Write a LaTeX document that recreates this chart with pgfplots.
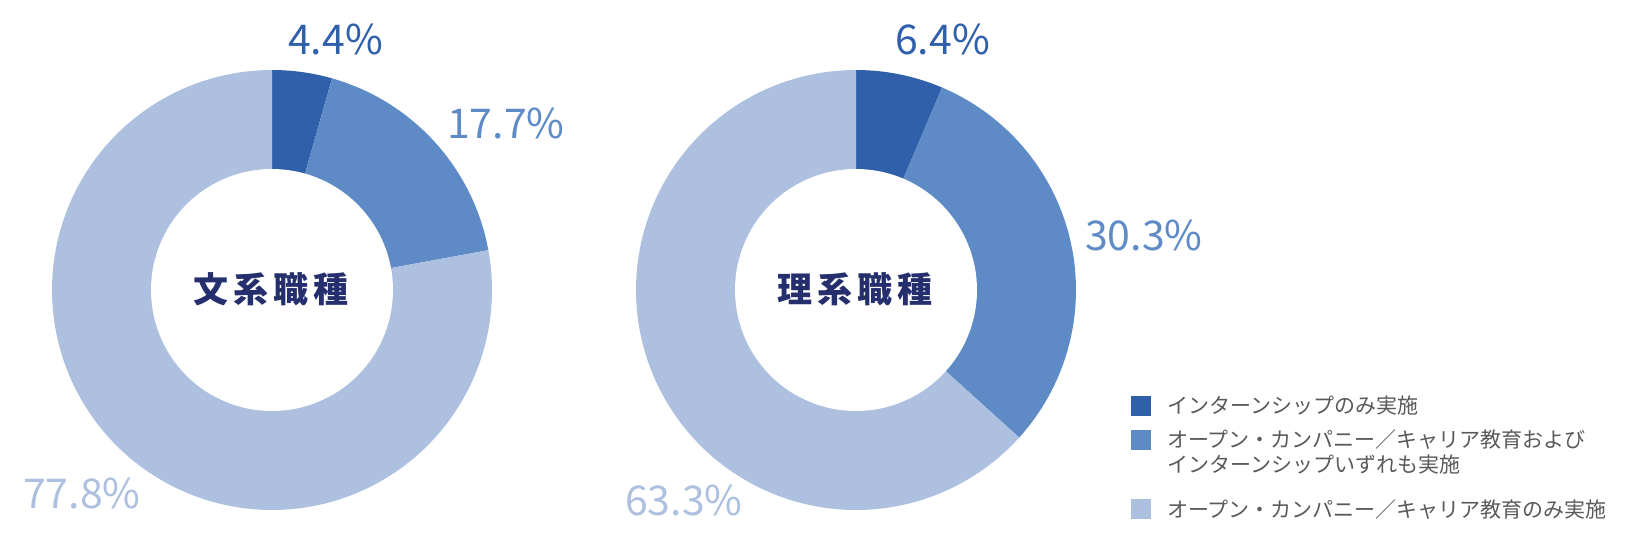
\documentclass[border=0pt]{standalone}
\usepackage{pgfplots}
\pgfplotsset{compat=1.18}
\usepackage{fontspec}
\setmainfont{Noto Sans CJK JP}
\definecolor{cA}{HTML}{3160AB}
\definecolor{cB}{HTML}{5E8BC6}
\definecolor{cC}{HTML}{ADC0DF}
\definecolor{navy}{HTML}{262F6E}
\definecolor{lgray}{HTML}{595959}
\pgfplotsset{
  donut/.style={width=440pt,height=440pt,scale only axis,hide axis,
    xmin=-1,xmax=1,ymin=-1,ymax=1,clip=false,anchor=center},
}
\newcommand{\pct}{\fontsize{41}{41}\selectfont}
\newcommand{\gapc}{\hspace{5pt}}
\begin{document}
\begin{tikzpicture}
\path[use as bounding box] (0pt,0pt) rectangle (1626pt,558pt);
% ---- 文系職種: 4.4 / 17.7 / 77.8
\begin{axis}[donut, at={(272pt,268pt)}]
\addplot[fill=cA, draw=none, domain=0:4.4, samples=30] ({sin(3.6*x)},{cos(3.6*x)}) -- (axis cs:0,0) -- cycle;
\addplot[fill=cB, draw=none, domain=4.4:22.1, samples=60] ({sin(3.6*x)},{cos(3.6*x)}) -- (axis cs:0,0) -- cycle;
\addplot[fill=cC, draw=none, domain=22.1:100, samples=150] ({sin(3.6*x)},{cos(3.6*x)}) -- (axis cs:0,0) -- cycle;
\addplot[fill=white, draw=none, domain=0:100, samples=150] ({0.55*sin(3.6*x)},{0.55*cos(3.6*x)}) -- cycle;
\end{axis}
% ---- 理系職種: 6.4 / 30.3 / 63.3
\begin{axis}[donut, at={(856pt,268pt)}]
\addplot[fill=cA, draw=none, domain=0:6.4, samples=30] ({sin(3.6*x)},{cos(3.6*x)}) -- (axis cs:0,0) -- cycle;
\addplot[fill=cB, draw=none, domain=6.4:36.7, samples=80] ({sin(3.6*x)},{cos(3.6*x)}) -- (axis cs:0,0) -- cycle;
\addplot[fill=cC, draw=none, domain=36.7:100, samples=150] ({sin(3.6*x)},{cos(3.6*x)}) -- (axis cs:0,0) -- cycle;
\addplot[fill=white, draw=none, domain=0:100, samples=150] ({0.55*sin(3.6*x)},{0.55*cos(3.6*x)}) -- cycle;
\end{axis}
% center titles
\node[text=navy, inner sep=0, font=\fontsize{35}{35}\selectfont\bfseries] at (271pt,269pt) {文\gapc 系\gapc 職\gapc 種};
\node[text=navy, inner sep=0, font=\fontsize{35}{35}\selectfont\bfseries] at (855pt,269pt) {理\gapc 系\gapc 職\gapc 種};
% percentage labels
\node[anchor=base west, inner sep=0, text=cA, font=\pct] at (288pt,503pt) {4.4\%};
\node[anchor=base west, inner sep=0, text=cB, font=\pct] at (447pt,419pt) {17.7\%};
\node[anchor=base west, inner sep=0, text=cC, font=\pct] at (23pt,50pt) {77.8\%};
\node[anchor=base west, inner sep=0, text=cA, font=\pct] at (895pt,503pt) {6.4\%};
\node[anchor=base west, inner sep=0, text=cB, font=\pct] at (1085pt,308pt) {30.3\%};
\node[anchor=base west, inner sep=0, text=cC, font=\pct] at (625pt,43pt) {63.3\%};
% legend
\fill[cA] (1131pt,142pt) rectangle (1151pt,162pt);
\fill[cB] (1131pt,108pt) rectangle (1151pt,128pt);
\fill[cC] (1131pt,39pt) rectangle (1151pt,59pt);
\begin{scope}[every node/.style={anchor=west, inner sep=0, text=lgray, font=\fontsize{21}{21}\selectfont}]
\node at (1167pt,152pt) {インターンシップのみ実施};
\node at (1167pt,118pt) {オープン・カンパニー／キャリア教育および};
\node at (1167pt,93pt) {インターンシップいずれも実施};
\node at (1167pt,48pt) {オープン・カンパニー／キャリア教育のみ実施};
\end{scope}
\end{tikzpicture}
\end{document}
